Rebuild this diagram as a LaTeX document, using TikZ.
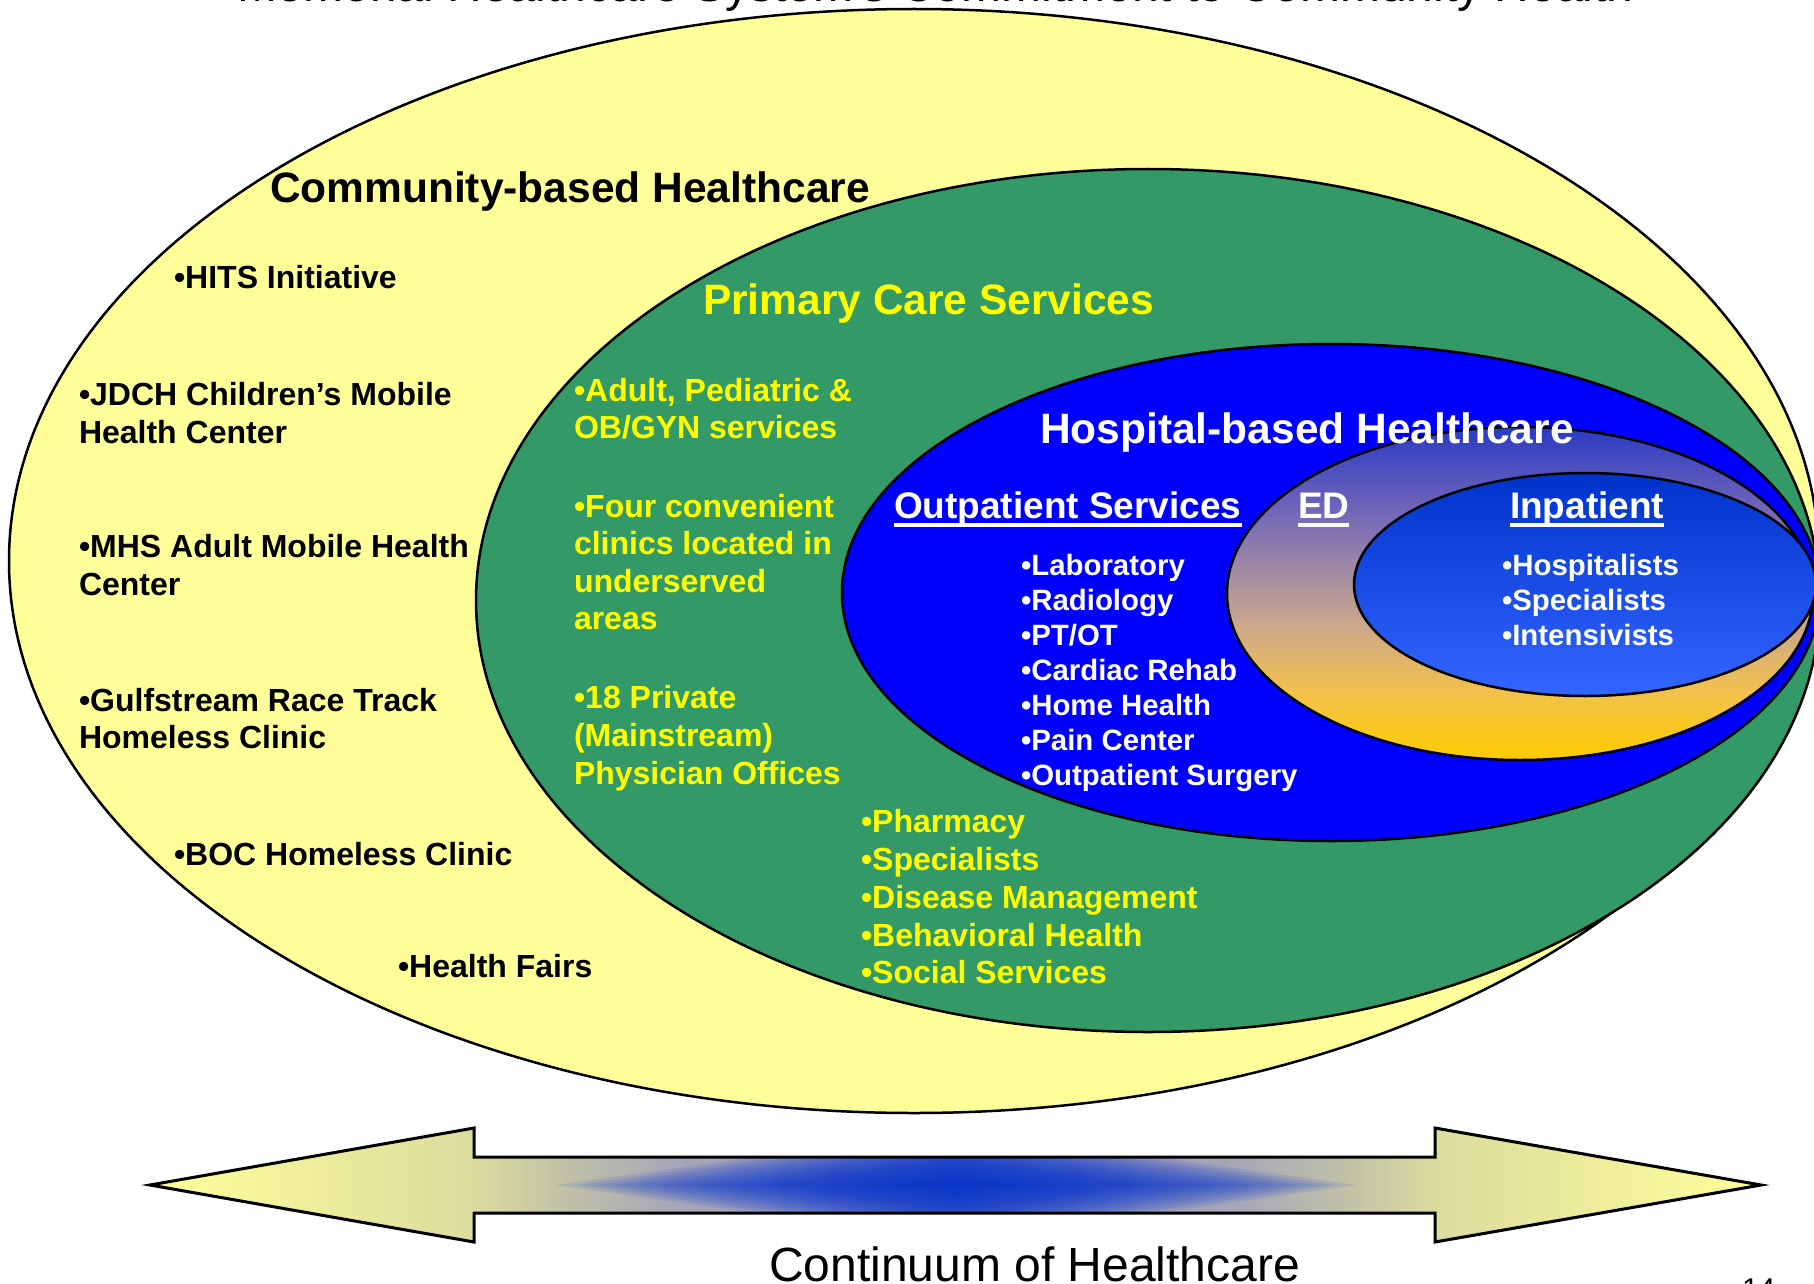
\documentclass[tikz,border=0pt]{standalone}
\usepackage{fontspec}
\setmainfont{Liberation Sans}
\usetikzlibrary{shapes.geometric}
\definecolor{cyel}{HTML}{FFFF99}
\definecolor{cgreen}{HTML}{339966}
\definecolor{cblue}{HTML}{0000FF}
\definecolor{tyel}{HTML}{FFFF00}
\definecolor{edA}{HTML}{FFCC00}
\definecolor{edB}{HTML}{F2C24A}
\definecolor{edC}{HTML}{CDA88A}
\definecolor{edD}{HTML}{A8909F}
\definecolor{edE}{HTML}{7468B8}
\definecolor{edF}{HTML}{2A3AC4}
\definecolor{inA}{HTML}{3366FF}
\definecolor{inB}{HTML}{0033CC}
\definecolor{arA}{HTML}{FFFF99}
\definecolor{arB}{HTML}{DCDC9E}
\definecolor{arC}{HTML}{C0C0A8}
\definecolor{arD}{HTML}{A8A8B8}
\definecolor{arE}{HTML}{9090C8}
\definecolor{arF}{HTML}{0030D0}
\pgfdeclareverticalshading{edshade}{100bp}{color(0bp)=(edA); color(25bp)=(edA); color(35bp)=(edB); color(45bp)=(edC); color(52bp)=(edD); color(62bp)=(edE); color(75bp)=(edF); color(100bp)=(edF)}
\pgfdeclareverticalshading{inshade}{100bp}{color(0bp)=(inA); color(25bp)=(inA); color(75bp)=(inB); color(100bp)=(inB)}
\pgfdeclarehorizontalshading{arrowshade}{100bp}{color(0bp)=(arA); color(25bp)=(arA); color(35bp)=(arB); color(38bp)=(arC); color(41bp)=(arD); color(50bp)=(arE); color(59bp)=(arD); color(62bp)=(arC); color(65bp)=(arB); color(75bp)=(arA); color(100bp)=(arA)}
\tikzset{
  txt/.style={anchor=base west, inner sep=0pt, outer sep=0pt},
  lst/.style={txt, font=\fontsize{32}{38}\selectfont\bfseries},
  sml/.style={txt, font=\fontsize{29.4}{35}\selectfont\bfseries, text=white},
  big/.style={txt, font=\fontsize{42.5}{50}\selectfont\bfseries},
  hd/.style={txt, font=\fontsize{37}{44}\selectfont\bfseries, text=white},
  plain/.style={txt, font=\fontsize{48}{56}\selectfont},
  oval/.style={ellipse, draw=black, line width=2.5pt, inner sep=0pt, outer sep=0pt},
  uline/.style={draw=white, line width=3.5pt}
}
\begin{document}
\begin{tikzpicture}[x=1pt, y=-1pt]
\useasboundingbox (0,0) rectangle (1814,1284);
\clip (0,0) rectangle (1814,1284);
% ellipses
\node[oval, fill=cyel, minimum width=1810pt, minimum height=1104pt] (community) at (914,561) {};
\node[oval, fill=cgreen, minimum width=1344pt, minimum height=863pt] (primary) at (1148,600.5) {};
\node[oval, fill=cblue, minimum width=978pt, minimum height=497pt] (hospital) at (1331,592.5) {};
\node[oval, shading=edshade, minimum width=586pt, minimum height=333pt] (ed) at (1520,593.5) {};
\node[oval, shading=inshade, minimum width=462pt, minimum height=223pt] (inpat) at (1585,584.5) {};
% arrow
\path[shading=arrowshade]
  (150,1185) -- (474,1128) -- (474,1157) -- (1435,1157) -- (1435,1128) -- (1761,1185)
  -- (1435,1242) -- (1435,1213) -- (474,1213) -- (474,1242) -- cycle;
\begin{scope}
  \clip (474,1157) rectangle (1435,1213);
  \foreach \k in {20,19,...,1}{
    \pgfmathsetmacro\w{20*\k}
    \pgfmathsetmacro\h{0.14*\w}
    \fill[arF, opacity=0.11] (956-\w,1185) -- (956,1185-\h) -- (956+\w,1185) -- (956,1185+\h) -- cycle;
  }
\end{scope}
\draw[black, line width=3pt, line join=miter]
  (150,1185) -- (474,1128) -- (474,1157) -- (1435,1157) -- (1435,1128) -- (1761,1185)
  -- (1435,1242) -- (1435,1213) -- (474,1213) -- (474,1242) -- cycle;
% titles
\node[plain] (title) at (237,2) {Memorial Healthcare System’s Commitment to Community Health};
\node[plain] (continuum) at (769,1281) {Continuum of Healthcare};
\node[txt, font=\fontsize{30}{36}\selectfont] (pagenum) at (1742,1299) {14};
% community
\node[big] (tcomm) at (270,203) {Community-based Healthcare};
\node[lst] (c1) at (174,288) {•HITS Initiative};
\node[lst] (c2a) at (79,405) {•JDCH Children’s Mobile};
\node[lst] (c2b) at (79,443) {Health Center};
\node[lst] (c3a) at (79,557) {•MHS Adult Mobile Health};
\node[lst] (c3b) at (79,595) {Center};
\node[lst] (c4a) at (79,711) {•Gulfstream Race Track};
\node[lst] (c4b) at (79,748) {Homeless Clinic};
\node[lst] (c5) at (174,865) {•BOC Homeless Clinic};
\node[lst] (c6) at (398,977) {•Health Fairs};
% primary
\node[big, text=tyel] (tprim) at (703,314) {Primary Care Services};
\node[lst, text=tyel] (p1a) at (574,401) {•Adult, Pediatric \&};
\node[lst, text=tyel] (p1b) at (574,438) {OB/GYN services};
\node[lst, text=tyel] (p2a) at (574,517) {•Four convenient};
\node[lst, text=tyel] (p2b) at (574,554) {clinics located in};
\node[lst, text=tyel] (p2c) at (574,592) {underserved};
\node[lst, text=tyel] (p2d) at (574,629) {areas};
\node[lst, text=tyel] (p3a) at (574,708) {•18 Private};
\node[lst, text=tyel] (p3b) at (574,746) {(Mainstream)};
\node[lst, text=tyel] (p3c) at (574,784) {Physician Offices};
\node[lst, text=tyel] (p4) at (861,832) {•Pharmacy};
\node[lst, text=tyel] (p5) at (861,870) {•Specialists};
\node[lst, text=tyel] (p6) at (861,908) {•Disease Management};
\node[lst, text=tyel] (p7) at (861,946) {•Behavioral Health};
\node[lst, text=tyel] (p8) at (861,983) {•Social Services};
% hospital
\node[big, text=white] (thosp) at (1040,443) {Hospital-based Healthcare};
\node[hd] (tout) at (894,518) {Outpatient Services};
\node[hd] (ted) at (1298,518) {ED};
\node[hd] (tin) at (1510,518) {Inpatient};
\draw[uline] ([yshift=-7pt]tout.base west) -- ([yshift=-7pt]tout.base east);
\draw[uline] ([yshift=-7pt]ted.base west) -- ([yshift=-7pt]ted.base east);
\draw[uline] ([yshift=-7pt]tin.base west) -- ([yshift=-7pt]tin.base east);
\node[sml] (o1) at (1021,575) {•Laboratory};
\node[sml] (o2) at (1021,610) {•Radiology};
\node[sml] (o3) at (1021,645) {•PT/OT};
\node[sml] (o4) at (1021,680) {•Cardiac Rehab};
\node[sml] (o5) at (1021,715) {•Home Health};
\node[sml] (o6) at (1021,750) {•Pain Center};
\node[sml] (o7) at (1021,785) {•Outpatient Surgery};
\node[sml] (i1) at (1502,575) {•Hospitalists};
\node[sml] (i2) at (1502,610) {•Specialists};
\node[sml] (i3) at (1502,645) {•Intensivists};
\end{tikzpicture}
\end{document}
